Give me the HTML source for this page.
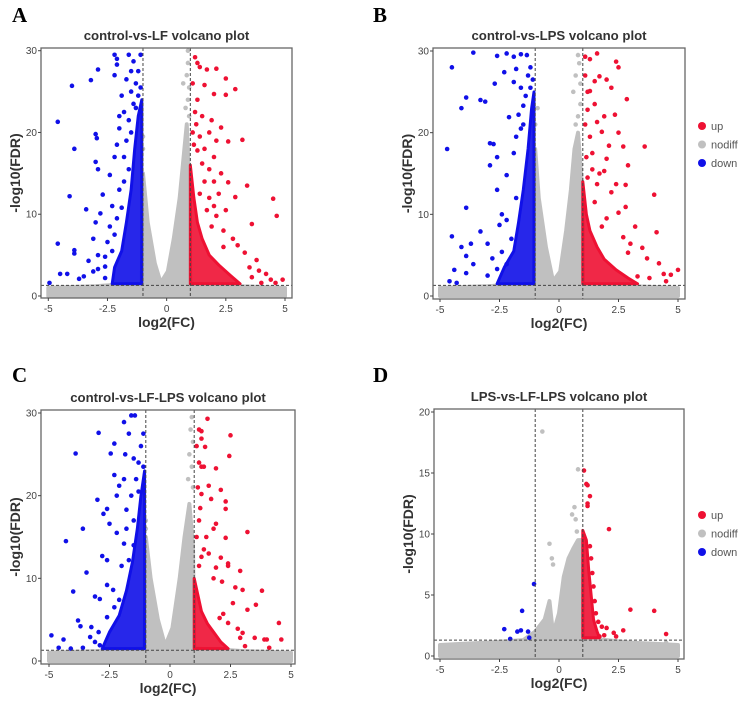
<!DOCTYPE html>
<html><head><meta charset="utf-8">
<style>
html,body{margin:0;padding:0;background:#fff;}
svg{display:block;font-family:"Liberation Sans",Arial,sans-serif;}
.lt{font-family:"Liberation Serif",serif;font-weight:bold;font-size:21px;fill:#000;}
.tt{font-weight:bold;font-size:13.2px;fill:#333;}
.tk{font-size:10px;fill:#444;}
.at{font-weight:bold;font-size:14px;fill:#333;}
.lg{font-size:11px;fill:#555;}
</style></head>
<body>
<svg id="fig" width="745" height="702" viewBox="0 0 745 702"></svg>
<script>
// ---- Panel data (log2FC, -log10FDR) ----
const xTicks = [-5, -2.5, 0, 2.5, 5];
const xTickLabels = ["-5", "-2.5", "0", "2.5", "5"];
const yTicks30 = [0, 10, 20, 30];
const yTicks20 = [0, 5, 10, 15, 20];
const legendLabels = ["up", "nodiff", "down"];

// grey (nodiff) density envelopes: [x, top y]
const greyA = [[-5,1.0],[-4,1.1],[-3,1.2],[-2,1.4],[-1.05,1.5],[-1.0,15],[-0.8,9],[-0.5,4],[-0.25,1.6],[0.05,3],[0.3,7],[0.55,12],[0.75,18],[0.85,21],[0.95,14],[1.0,1.5],[2,1.4],[3,1.2],[4,1.1],[5,1.0]];
const greyB = [[-5,1.0],[-4,1.1],[-3,1.2],[-2,1.4],[-1.05,1.5],[-1.0,18],[-0.85,12],[-0.55,6],[-0.25,1.8],[0.05,3],[0.3,8],[0.5,13],[0.65,18],[0.8,20],[0.95,14],[1.0,1.5],[2,1.4],[3,1.2],[4,1.1],[5,1.0]];
const greyC = [[-5,1.0],[-4,1.1],[-3,1.2],[-2,1.4],[-1.05,1.5],[-1.0,15],[-0.8,10],[-0.5,5],[-0.2,1.8],[0.1,4],[0.4,10],[0.6,15],[0.8,19],[0.95,14],[1.0,1.5],[2,1.4],[3,1.2],[4,1.1],[5,1.0]];
const greyD = [[-5,0.9],[-4,1.0],[-3,1.1],[-1.5,1.3],[-1.0,2.0],[-0.6,3.0],[-0.4,4.5],[-0.25,1.8],[0.0,3.5],[0.2,6.5],[0.4,8.0],[0.6,8.8],[0.8,9.5],[0.95,9.5],[1.0,1.5],[2,1.3],[3,1.1],[4,1.0],[5,0.9]];
// sparse grey points above the cloud
const greyPtsA = [[0.9,30],[0.9,28.5],[0.85,27],[0.95,25.5],[0.7,26],[0.9,24],[0.8,23],[-1.0,18],[-1.0,19.5],[0.95,22]];
const greyPtsB = [[0.8,29.5],[0.85,28.5],[0.7,27],[0.9,26],[0.6,25],[0.9,23.5],[0.8,22],[-0.9,23],[-1.0,21],[0.7,21]];
const greyPtsC = [[0.9,29.5],[0.85,28],[0.95,26.5],[0.8,25],[0.9,23.5],[0.75,22],[0.95,21],[-1.0,17],[-1.0,16]];
const greyPtsD = [[-0.7,18.4],[0.8,15.3],[0.65,12.2],[0.7,11.2],[0.75,10.2],[-0.4,9.2],[-0.3,8],[-0.25,7.5],[0.55,11.6],[4,0.9],[4.5,1.1]];

// dense colour cores: polygons [x,y]
const blueCoreA = [[-2.3,1.5],[-2.2,3.5],[-1.9,5.5],[-1.7,9],[-1.5,13],[-1.35,18],[-1.2,22],[-1.05,24],[-1.05,1.5]];
const redCoreA = [[1.0,1.5],[1.0,16],[1.15,12],[1.3,9],[1.5,7],[1.8,5],[2.2,3.8],[2.7,2.5],[3.1,1.5]];
const blueCoreB = [[-2.6,1.5],[-2.3,3.5],[-1.9,5.5],[-1.7,9],[-1.5,13],[-1.3,18],[-1.15,23],[-1.05,25],[-1.05,1.5]];
const redCoreB = [[1.0,1.5],[1.0,14],[1.15,10],[1.3,8],[1.6,6],[1.9,4.5],[2.4,3.2],[2.9,2.2],[3.3,1.5]];
const blueCoreC = [[-2.8,1.5],[-2.5,3.5],[-2.1,5.5],[-1.8,8.5],[-1.55,12],[-1.35,16],[-1.2,20],[-1.05,23],[-1.05,1.5]];
const redCoreC = [[1.0,1.5],[1.0,10],[1.15,8],[1.3,6],[1.55,4.5],[1.8,3.5],[2.1,2.3],[2.4,1.5]];
const blueCoreD = [];
const redCoreD = [[1.0,1.5],[1.0,10.3],[1.15,9.5],[1.25,7],[1.35,5],[1.45,3],[1.6,2],[1.7,1.5]];

// scattered significant genes
const downA = [[-2.2,29.5],[-2.1,29],[-2.1,28.3],[-1.6,29.5],[-1.4,28.7],[-2.9,27.7],[-3.2,26.4],[-4,25.7],[-2.2,27],[-1.7,26.5],[-1.5,27.5],[-4.6,21.3],[-2,22],[-1.8,22.5],[-3,19.8],[-2.95,19.3],[-3.9,18],[-2.1,18.5],[-1.7,19],[-3,16.4],[-2.9,15.5],[-2.2,17],[-2.4,14.8],[-4.1,12.2],[-2.7,12.4],[-3.4,10.6],[-2,13],[-2.3,11],[-3,9],[-2.8,10.1],[-4.6,6.4],[-3.1,7],[-3.9,5.6],[-3.9,5.2],[-2.5,6.6],[-2.9,5],[-3.3,4.3],[-4.5,2.7],[-4.2,2.7],[-4.95,1.6],[-3.7,2.1],[-3.5,2.4],[-3.1,3],[-2.9,3.3],[-2.6,3.6],[-2.6,4.8],[-2.2,7.5],[-2.1,9.5],[-1.9,10.8],[-1.8,14],[-1.6,15.5],[-1.5,20],[-1.4,23.5],[-1.2,24.5],[-2.4,8.5],[-2.3,5.5],[-2.6,2.2],[-2.0,20.5],[-1.8,17],[-1.3,26],[-1.2,27.5],[-1.1,29.5],[-1.5,25],[-1.3,23],[-1.6,21.5],[-1.9,24.5],[-1.1,25.5]];
const upA = [[1.2,29.2],[1.3,28.5],[1.4,28],[1.7,27.7],[2.1,27.8],[1.6,25.8],[2.5,26.6],[2.9,25.3],[2.0,24.7],[2.5,24.6],[1.1,26],[1.5,22],[1.9,21.5],[2.3,20.6],[1.8,20],[2.1,19],[3.2,19.1],[2.6,18.9],[1.6,18],[1.3,17.8],[2.0,17],[1.5,16.2],[1.8,15.5],[2.3,15],[2.0,14],[2.6,13.9],[3.4,13.5],[2.2,12.5],[1.8,12],[2.9,12.1],[4.5,11.9],[4.65,9.8],[2.5,10.5],[2.1,9.8],[3.6,8.8],[2.4,8],[2.8,7],[3.0,6.2],[3.3,5.3],[3.8,4.4],[3.5,3.5],[3.9,3.1],[4.2,2.7],[4.4,2],[4.6,1.6],[4.9,2],[4.0,1.6],[3.6,2.3],[2.4,6],[1.9,8.5],[1.2,22.5],[1.25,21],[1.4,19.5],[1.1,20],[1.3,24],[1.15,18.5],[1.6,14],[1.4,12.5],[2.0,11],[1.7,10.5]];
const downB = [[-3.6,29.8],[-2.6,29.4],[-2.2,29.7],[-1.9,29.3],[-1.6,29.6],[-1.35,29.5],[-4.5,28],[-2.3,27.4],[-1.8,27.8],[-2.7,26],[-1.9,26.2],[-1.6,25.5],[-3.9,24.3],[-4.1,23],[-3.3,24],[-3.1,23.8],[-2.1,21.9],[-1.7,22.2],[-4.7,18],[-2.9,18.7],[-2.75,18.6],[-2.9,16],[-2.6,17],[-1.9,17.5],[-2.2,14.8],[-2.6,13],[-3.9,10.8],[-2.4,10],[-1.8,12],[-1.6,20.5],[-1.5,23.3],[-4.5,7.3],[-3.3,7.9],[-3.0,6.4],[-3.7,6.4],[-4.1,6],[-3.9,4.9],[-2.5,8.7],[-2.2,9.3],[-3.6,3.9],[-2.8,4.6],[-4.4,3.2],[-4.6,1.8],[-4.3,1.6],[-3.0,2.5],[-2.6,3.3],[-2.2,3.9],[-3.9,2.8],[-2.4,5.4],[-2.0,7],[-1.2,28],[-1.1,26.5],[-1.3,27],[-1.4,24.5],[-1.2,25.5],[-1.5,21],[-1.8,19.5]];
const upB = [[1.1,29.3],[1.3,29],[1.6,29.7],[1.7,26.9],[2.0,26.5],[1.5,26.3],[2.2,25.5],[2.4,28.7],[2.5,28],[1.3,25.1],[2.85,24.1],[1.5,23.5],[1.2,22.8],[1.9,22],[2.35,22.2],[1.6,21.3],[2.5,20],[1.8,20.1],[3.6,18.3],[2.1,18.4],[2.7,18.3],[1.4,17.5],[2.0,16.8],[2.9,16],[1.7,15],[1.9,15.3],[1.6,13.7],[2.4,13.7],[2.8,13.6],[2.2,12.7],[4.0,12.4],[2.8,10.9],[2.5,10.2],[2.0,9.5],[3.2,8.5],[4.1,7.8],[2.7,7.2],[3.0,6.4],[3.5,5.9],[2.9,5.3],[3.7,4.6],[4.2,4],[4.4,2.7],[4.7,2.6],[5.0,3.2],[4.5,1.8],[3.8,2.2],[3.3,2.4],[1.5,11.5],[1.8,8.5],[1.1,27],[1.2,25],[1.1,21],[1.3,19.5],[1.15,17],[1.4,15.5],[1.2,14.5]];
const downC = [[-1.6,29.7],[-1.45,29.7],[-1.9,28.9],[-2.95,27.6],[-1.7,27.5],[-1.1,27.5],[-2.3,26.3],[-3.9,25.1],[-2.45,25.1],[-1.85,25],[-1.5,24.5],[-1.9,22],[-2.3,22.5],[-2.1,21.2],[-3.0,19.5],[-2.2,20],[-2.6,18.4],[-2.75,17.8],[-1.8,18.3],[-3.6,16],[-2.5,16.6],[-1.5,17],[-4.3,14.5],[-2.2,15.5],[-1.9,14.2],[-2.8,12.7],[-2.6,12.2],[-3.45,10.7],[-2.0,11.5],[-4.0,8.4],[-3.1,7.8],[-2.6,9.2],[-2.35,8.6],[-2.9,7.5],[-3.8,4.9],[-3.7,4.2],[-3.25,4.1],[-2.95,3.5],[-2.6,5.3],[-4.9,3.1],[-4.4,2.6],[-4.6,1.6],[-4.1,1.5],[-3.6,1.6],[-3.3,2.9],[-3.1,2.3],[-2.9,1.9],[-2.3,6.5],[-2.1,7.4],[-1.7,12.2],[-1.2,26],[-1.3,24],[-1.1,23.5],[-1.4,22],[-1.6,20],[-1.3,20.5],[-1.8,16],[-1.5,14]];
const upC = [[1.55,29.3],[1.2,28],[1.3,27.8],[1.3,26.9],[1.45,25.9],[2.5,27.3],[2.45,24.8],[1.3,23.5],[1.4,23.5],[1.9,23.3],[1.6,21.2],[2.1,20.7],[1.3,20.2],[1.7,19.6],[2.3,19.3],[2.3,18.4],[1.2,17],[1.9,16.6],[1.8,16],[3.2,15.6],[1.5,15],[2.3,14.9],[1.6,13],[1.3,12.6],[2.1,12.5],[2.4,11.8],[2.4,11.5],[1.9,11.3],[2.9,10.9],[1.8,10],[2.15,9.6],[2.7,8.9],[3.8,8.5],[3.0,8.6],[2.6,7],[3.55,6.8],[3.2,6.2],[2.2,5.7],[4.5,4.6],[2.8,3.9],[3.0,3.4],[2.9,2.8],[3.5,2.8],[3.9,2.6],[4.0,2.6],[4.6,2.6],[3.1,1.8],[2.4,4.6],[2.05,5.2],[4.1,1.6],[1.1,26],[1.2,24],[1.15,21],[1.25,18.5],[1.1,15],[1.4,13.5],[1.2,11.5]];
const downD = [[-1.05,5.9],[-1.55,3.7],[-2.3,2.2],[-1.75,2.0],[-1.6,2.1],[-1.3,2.0],[-2.05,1.4],[-1.25,1.5]];
const upD = [[1.05,15.2],[1.15,14.1],[1.2,14],[1.3,13.1],[1.2,12.5],[1.2,12.3],[2.1,10.4],[1.3,9],[1.35,8],[1.4,6.8],[1.45,5.7],[1.5,4.5],[1.55,3.5],[3.0,3.8],[4.0,3.7],[4.5,1.8],[2.7,2.1],[2.3,1.9],[2.0,2.3],[1.8,2.4],[1.9,1.7],[2.4,1.6],[1.65,2.8],[1.7,1.6]];

// ---- rendering ----
const NS = "http://www.w3.org/2000/svg";
const fig = document.getElementById("fig");
function mk(tag, attrs, parent) {
  const e = document.createElementNS(NS, tag);
  for (const k in attrs) e.setAttribute(k, attrs[k]);
  (parent || fig).appendChild(e);
  return e;
}
const RED = "#ee1133", BLUE = "#1010e8", GREY = "#c0c0c0";

const panels = [
  {id:"a", letter:"A", lx:12, ly:22, title:"control-vs-LF volcano plot", box:[41,48,292,298], xr:[48.3,285], yr:[296,50.7], ymax:30, yt:yTicks30, grey:greyA, gpts:greyPtsA, bc:blueCoreA, rc:redCoreA, dn:downA, up:upA, legend:null},
  {id:"b", letter:"B", lx:373, ly:22, title:"control-vs-LPS volcano plot", box:[433,48,685,299], xr:[440,678], yr:[296,51], ymax:30, yt:yTicks30, grey:greyB, gpts:greyPtsB, bc:blueCoreB, rc:redCoreB, dn:downB, up:upB, legend:[702,126]},
  {id:"c", letter:"C", lx:12, ly:382, title:"control-vs-LF-LPS volcano plot", box:[41,410,295,664], xr:[49,291], yr:[661,413], ymax:30, yt:yTicks30, grey:greyC, gpts:greyPtsC, bc:blueCoreC, rc:redCoreC, dn:downC, up:upC, legend:null},
  {id:"d", letter:"D", lx:373, ly:382, title:"LPS-vs-LF-LPS volcano plot", box:[434,409,684,659], xr:[440,678], yr:[656,412], ymax:20, yt:yTicks20, grey:greyD, gpts:greyPtsD, bc:blueCoreD, rc:redCoreD, dn:downD, up:upD, legend:[702,515]}
];

panels.forEach(p => {
  const X = v => p.xr[0] + (v + 5) / 10 * (p.xr[1] - p.xr[0]);
  const Y = v => p.yr[0] - v / p.ymax * (p.yr[0] - p.yr[1]);
  const g = mk("g", {});
  
  
  const [bx0, by0, bx1, by1] = p.box;

  const letter = mk("text", {x:p.lx, y:p.ly, class:"lt"}, g);
  letter.textContent = p.letter;
  
  

  const title = mk("text", {x:(bx0+bx1)/2, y:by0-8, class:"tt", "text-anchor":"middle"}, g);
  title.textContent = p.title;
  
  

  const clipId = "clip-" + p.id;
  const cp = mk("clipPath", {id:clipId}, g);
  mk("rect", {x:bx0, y:by0, width:bx1-bx0, height:by1-by0}, cp);
  const plot = mk("g", {"clip-path":"url(#" + clipId + ")"}, g);
  
  

  // grey nodiff cloud
  const gpts = p.grey.map(d => X(d[0]) + "," + Y(d[1]));
  gpts.unshift(X(p.grey[0][0]) + "," + Y(0));
  gpts.push(X(p.grey[p.grey.length-1][0]) + "," + Y(0));
  const gp = mk("polygon", {points:gpts.join(" "), fill:GREY, stroke:GREY, "stroke-width":4, "stroke-linejoin":"round"}, plot);
  
  
  p.gpts.forEach(d => {
    const c = mk("circle", {cx:X(d[0]), cy:Y(d[1]), r:2.3, fill:GREY}, plot);
    
    
  });

  // dense cores
  [[p.bc, BLUE, 'down-core'], [p.rc, RED, 'up-core']].forEach(([arr, col, nm]) => {
    if (!arr.length) return;
    const poly = mk("polygon", {points:arr.map(d => X(d[0]) + "," + Y(d[1])).join(" "), fill:col, "fill-opacity":0.9, stroke:col, "stroke-width":3, "stroke-linejoin":"round"}, plot);
    
    
  });
  p.dn.forEach(d => {
    const c = mk("circle", {cx:X(d[0]), cy:Y(d[1]), r:2.3, fill:BLUE}, plot);
    
    
  });
  p.up.forEach(d => {
    const c = mk("circle", {cx:X(d[0]), cy:Y(d[1]), r:2.3, fill:RED}, plot);
    
    
  });

  // threshold lines
  [[X(-1), by0, X(-1), by1], [X(1), by0, X(1), by1], [bx0, Y(1.3), bx1, Y(1.3)]].forEach(l => {
    const ln = mk("line", {x1:l[0], y1:l[1], x2:l[2], y2:l[3], stroke:"#444", "stroke-width":1, "stroke-dasharray":"3,2"}, g);
    
    
  });

  const box = mk("rect", {x:bx0, y:by0, width:bx1-bx0, height:by1-by0, fill:"none", stroke:"#666", "stroke-width":1.3}, g);
  
  

  xTicks.forEach((t, i) => {
    const tk = mk("line", {x1:X(t), y1:by1, x2:X(t), y2:by1+3, stroke:"#444"}, g);
    
    
    const tl = mk("text", {x:X(t), y:by1+14, class:"tk", "text-anchor":"middle"}, g);
    tl.textContent = xTickLabels[i];
    
    
  });
  p.yt.forEach(t => {
    const tk = mk("line", {x1:bx0-3, y1:Y(t), x2:bx0, y2:Y(t), stroke:"#444"}, g);
    
    
    const tl = mk("text", {x:bx0-4, y:Y(t)+3.5, class:"tk", "text-anchor":"end"}, g);
    tl.textContent = String(t);
    
    
  });

  const xt = mk("text", {x:(bx0+bx1)/2, y:by1+29, class:"at", "text-anchor":"middle"}, g);
  xt.textContent = "log2(FC)";
  
  
  const ycx = bx0 - 21, ycy = (by0+by1)/2;
  const yt = mk("text", {x:ycx, y:ycy, class:"at", "text-anchor":"middle", transform:"rotate(-90 " + ycx + " " + ycy + ")"}, g);
  yt.textContent = "-log10(FDR)";
  
  

  if (p.legend) {
    const cols = [RED, GREY, BLUE];
    legendLabels.forEach((lab, i) => {
      const ly = p.legend[1] + i * 18.5;
      const lg = mk("g", {}, g);
      
      
      mk("circle", {cx:p.legend[0], cy:ly, r:4, fill:cols[i]}, lg);
      const t = mk("text", {x:p.legend[0]+9, y:ly+4, class:"lg"}, lg);
      t.textContent = lab;
    });
  }
});
</script>
</body></html>
